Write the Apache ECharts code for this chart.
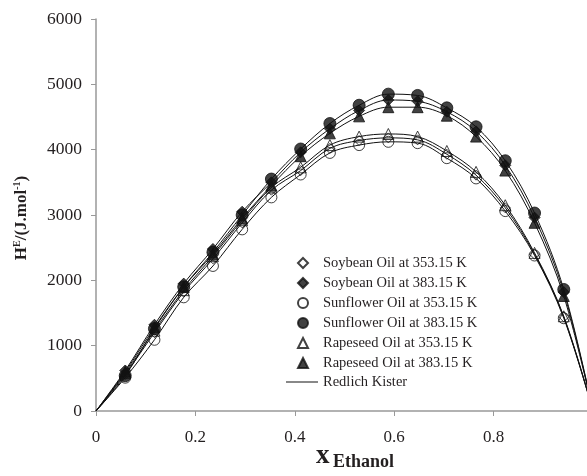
<!DOCTYPE html>
<html>
<head>
<meta charset="utf-8">
<script src="https://cdn.jsdelivr.net/npm/echarts@6/dist/echarts.min.js"></script>
<style>
  html, body { margin: 0; padding: 0; background: #fff; }
  #chart { width: 587px; height: 476px; }
</style>
</head>
<body>
<div id="chart"></div>
<script>
// mole fraction of ethanol (x axis)
var xEthanol = [0.0588, 0.1176, 0.1765, 0.2353, 0.2941, 0.3529, 0.4118, 0.4706,
                0.5294, 0.5882, 0.6471, 0.7059, 0.7647, 0.8235, 0.8824, 0.9412];

// H^E values
var soybean353   = [560, 1200, 1820, 2330, 2880, 3380, 3680, 4020, 4140, 4180, 4150, 3930, 3610, 3110, 2400, 1440];
var soybean383   = [620, 1320, 1950, 2480, 3050, 3500, 3960, 4320, 4600, 4760, 4740, 4580, 4280, 3760, 2960, 1820];
var sunflower353 = [510, 1090, 1740, 2220, 2780, 3270, 3620, 3950, 4070, 4120, 4100, 3870, 3560, 3060, 2380, 1420];
var sunflower383 = [540, 1260, 1900, 2430, 3000, 3550, 4010, 4400, 4680, 4850, 4830, 4640, 4350, 3830, 3030, 1860];
var rapeseed353  = [580, 1230, 1850, 2370, 2920, 3420, 3730, 4070, 4200, 4240, 4200, 3980, 3660, 3150, 2420, 1450];
var rapeseed383  = [600, 1280, 1900, 2400, 2950, 3450, 3900, 4250, 4510, 4650, 4650, 4520, 4200, 3680, 2880, 1760];

var serif = 'Liberation Serif';
var ink = '#111';

function pts(ys) {
    return xEthanol.map(function (x, i) { return [x, ys[i]]; });
}

// 数据点系列
var markerSets = [
    { name: 'Soybean Oil at 353.15 K',   data: soybean353,   symbol: 'diamond',  size: 10, open: true },
    { name: 'Soybean Oil at 383.15 K',   data: soybean383,   symbol: 'diamond',  size: 11, open: false },
    { name: 'Sunflower Oil at 353.15 K', data: sunflower353, symbol: 'circle',   size: 11, open: true },
    { name: 'Sunflower Oil at 383.15 K', data: sunflower383, symbol: 'circle',   size: 12, open: false },
    { name: 'Rapeseed Oil at 353.15 K',  data: rapeseed353,  symbol: 'triangle', size: 11, open: true },
    { name: 'Rapeseed Oil at 383.15 K',  data: rapeseed383,  symbol: 'triangle', size: 11, open: false }
];

var series = [];
markerSets.forEach(function (m) {
    // fitted curve (Redlich Kister), through the points and the two pure-component ends
    series.push({
        name: 'Redlich Kister',
        type: 'line',
        data: [[0, 0]].concat(pts(m.data), [[1, 0]]),
        smooth: 0.35,
        symbol: 'none',
        showSymbol: false,
        lineStyle: { color: ink, width: 1 },
        itemStyle: { color: ink },
        z: 2
    });
});
markerSets.forEach(function (m) {
    series.push({
        name: m.name,
        type: 'scatter',
        data: pts(m.data),
        symbol: m.symbol,
        symbolSize: m.size,
        itemStyle: {
            color: m.open ? 'rgba(255,255,255,0)' : ink,
            borderColor: ink,
            borderWidth: 1
        },
        z: 3
    });
});

var legendText = { fontFamily: serif, fontSize: 14.5, color: '#231f20', lineHeight: 20 };

var chart = echarts.init(document.getElementById('chart'));
chart.setOption({
    animation: false,
    backgroundColor: '#fff',
    grid: { left: 96, width: 497, top: 19, bottom: 65, outerBoundsMode: 'none', containLabel: false },
    legend: [
        {
            orient: 'vertical',
            left: 292,
            top: 248,
            itemWidth: 10,
            itemHeight: 10,
            itemGap: 0,
            data: markerSets.map(function (m) { return m.name; }),
            textStyle: Object.assign({ padding: [0, 0, 0, 10] }, legendText)
        },
        {
            orient: 'vertical',
            left: 281,
            top: 367,
            itemWidth: 32,
            itemHeight: 1,
            data: [{ name: 'Redlich Kister', icon: 'rect' }],
            textStyle: legendText
        }
    ],
    xAxis: {
        type: 'value',
        min: 0,
        max: 1,
        interval: 0.2,
        axisLine: { show: true, lineStyle: { color: '#999', width: 1.5 } },
        axisTick: { show: true, length: 5, lineStyle: { color: '#999' } },
        splitLine: { show: false },
        axisLabel: {
            fontFamily: serif, fontSize: 17, color: '#231f20', margin: 18,
            formatter: function (v) {
                if (v === 0) return '0';
                if (v >= 1) return '';   // off the edge of the picture
                return v.toFixed(1);
            }
        }
    },
    yAxis: {
        type: 'value',
        min: 0,
        max: 6000,
        interval: 1000,
        axisLine: { show: true, lineStyle: { color: '#999', width: 1.5 } },
        axisTick: { show: true, length: 5, lineStyle: { color: '#999' } },
        splitLine: { show: false },
        axisLabel: {
            fontFamily: serif, fontSize: 17.5, color: '#231f20', margin: 14,
            formatter: function (v) { return String(v); }
        }
    },
    graphic: [
        {
            type: 'text', left: 316, top: 443, silent: true,
            style: { text: 'x', fontFamily: serif, fontSize: 27, fontWeight: 'bold', fill: '#231f20' }
        },
        {
            type: 'text', left: 333, top: 453, silent: true,
            style: { text: 'Ethanol', fontFamily: serif, fontSize: 18, fontWeight: 'bold', fill: '#231f20' }
        },
        {
            type: 'text', x: 22, y: 218, rotation: Math.PI / 2, silent: true,
            style: {
                text: '{b|H}{p|E}{b|/(J.mol}{p|-1}{b|)}',
                align: 'center',
                verticalAlign: 'middle',
                fill: '#231f20',
                rich: {
                    b: { fontFamily: serif, fontSize: 17, fontWeight: 'bold', lineHeight: 19, fill: '#231f20' },
                    p: { fontFamily: serif, fontSize: 10, fontWeight: 'bold', lineHeight: 10, verticalAlign: 'top', fill: '#231f20' }
                }
            }
        }
    ],
    series: series
});
</script>
</body>
</html>
